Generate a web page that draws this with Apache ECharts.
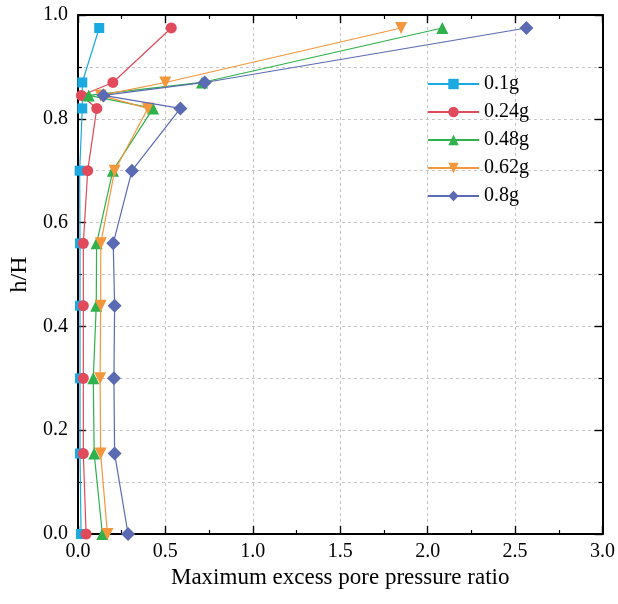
<!DOCTYPE html>
<html>
<head>
<meta charset="utf-8">
<script src="https://cdn.jsdelivr.net/npm/echarts@6/dist/echarts.min.js"></script>
<style>
html,body{margin:0;padding:0;background:#fff;}
#chart{width:618px;height:604px;}
</style>
</head>
<body>
<div id="chart"></div>
<script>
// h/H levels (y values)
const heights = [0.975, 0.87, 0.845, 0.82, 0.70, 0.56, 0.44, 0.30, 0.155, 0.0];
// Maximum excess pore pressure ratio per shaking level
const g01  = [0.122, 0.025, null, 0.025, 0.010, 0.012, 0.012, 0.012, 0.012, 0.018];
const g024 = [0.534, 0.200, 0.020, 0.108, 0.056, 0.031, 0.031, 0.031, 0.031, 0.047];
const g048 = [2.084, 0.710, 0.062, 0.430, 0.200, 0.107, 0.105, 0.088, 0.093, 0.140];
const g062 = [1.848, 0.500, 0.130, 0.400, 0.210, 0.131, 0.130, 0.127, 0.130, 0.169];
const g08  = [2.565, 0.725, 0.146, 0.586, 0.309, 0.202, 0.210, 0.206, 0.210, 0.287];
const seriesNames = ['0.1g', '0.24g', '0.48g', '0.62g', '0.8g'];
const xTicks = [0, 0.5, 1.0, 1.5, 2.0, 2.5, 3.0];
const yTicks = [0, 0.2, 0.4, 0.6, 0.8, 1.0];

const seriesData = [g01, g024, g048, g062, g08];
const colors = ['#1AA9E1', '#E04A5A', '#2FB14B', '#F4973C', '#5B6BB3'];
const symbols = ['rect', 'circle', 'triangle', 'path://M0,0 L10,0 L5,9 Z', 'diamond'];
const sizes = [10, 11, 12, 12, 14];
const FONT = '"Liberation Serif", "Times New Roman", serif';

function pairs(vals) {
  return vals.map((v, i) => v === null ? null : [v, heights[i]]).filter(p => p !== null);
}

const chart = echarts.init(document.getElementById('chart'), null, {renderer: 'canvas'});

const axisLineStyle = {show: true, onZero: false, lineStyle: {color: '#000', width: 2}};
const majorTick = {show: true, inside: true, length: 8, lineStyle: {color: '#000', width: 1.4}};
const minorTick = {show: true, splitNumber: 2, length: 4, lineStyle: {color: '#000', width: 1.2}};
const option = {
  animation: false,
  backgroundColor: '#fff',
  grid: {left: 72, right: 12, top: 15, bottom: 70, containLabel: false},
  legend: {
    orient: 'vertical',
    left: 422,
    top: 69,
    itemWidth: 51,
    itemHeight: 13,
    itemGap: 8,
    textStyle: {fontFamily: FONT, fontSize: 20, color: '#000'},
    data: seriesNames
  },
  xAxis: [{
    type: 'value', min: 0, max: 3.0, interval: 0.5,
    name: 'Maximum excess pore pressure ratio',
    nameLocation: 'middle', nameGap: 25,
    nameTextStyle: {fontFamily: FONT, fontSize: 23, color: '#000'},
    axisLine: axisLineStyle,
    axisTick: majorTick,
    minorTick: minorTick,
    axisLabel: {fontFamily: FONT, fontSize: 20, color: '#000', margin: 8,
      formatter: v => (xTicks.indexOf(+v.toFixed(2)) >= 0 ? v.toFixed(1) : '')},
    splitLine: {show: true, lineStyle: {color: '#c4c4c4', type: [3, 3], width: 1}}
  }, {
    type: 'value', position: 'top', min: 0, max: 3.0, interval: 0.5,
    axisLine: axisLineStyle,
    axisTick: majorTick,
    minorTick: minorTick,
    axisLabel: {show: false}, splitLine: {show: false}
  }],
  yAxis: [{
    type: 'value', min: 0, max: 1.0, interval: 0.2,
    name: 'h/H', nameLocation: 'middle', nameGap: 36, nameRotate: 90,
    nameTextStyle: {fontFamily: FONT, fontSize: 24, color: '#000'},
    axisLine: axisLineStyle,
    axisTick: majorTick,
    minorTick: minorTick,
    axisLabel: {fontFamily: FONT, fontSize: 20, color: '#000', margin: 10,
      formatter: v => (yTicks.indexOf(+v.toFixed(2)) >= 0 ? v.toFixed(1) : '')},
    splitLine: {show: true, lineStyle: {color: '#c4c4c4', type: [3, 3], width: 1}},
    minorSplitLine: {show: true, lineStyle: {color: '#c4c4c4', type: [3, 3], width: 1}}
  }, {
    type: 'value', position: 'right', min: 0, max: 1.0, interval: 0.2,
    axisLine: axisLineStyle,
    axisTick: majorTick,
    minorTick: minorTick,
    axisLabel: {show: false}, splitLine: {show: false}
  }],
  series: seriesNames.map((name, i) => ({
    name: name,
    type: 'line',
    xAxisIndex: 0, yAxisIndex: 0,
    data: pairs(seriesData[i]),
    symbol: symbols[i],
    symbolSize: sizes[i],
    showAllSymbol: true,
    clip: false,
    color: colors[i],
    lineStyle: {color: colors[i], width: 1.2},
    itemStyle: {color: colors[i], opacity: 1},
    z: 2 + i
  }))
};
chart.setOption(option);
</script>
</body>
</html>
